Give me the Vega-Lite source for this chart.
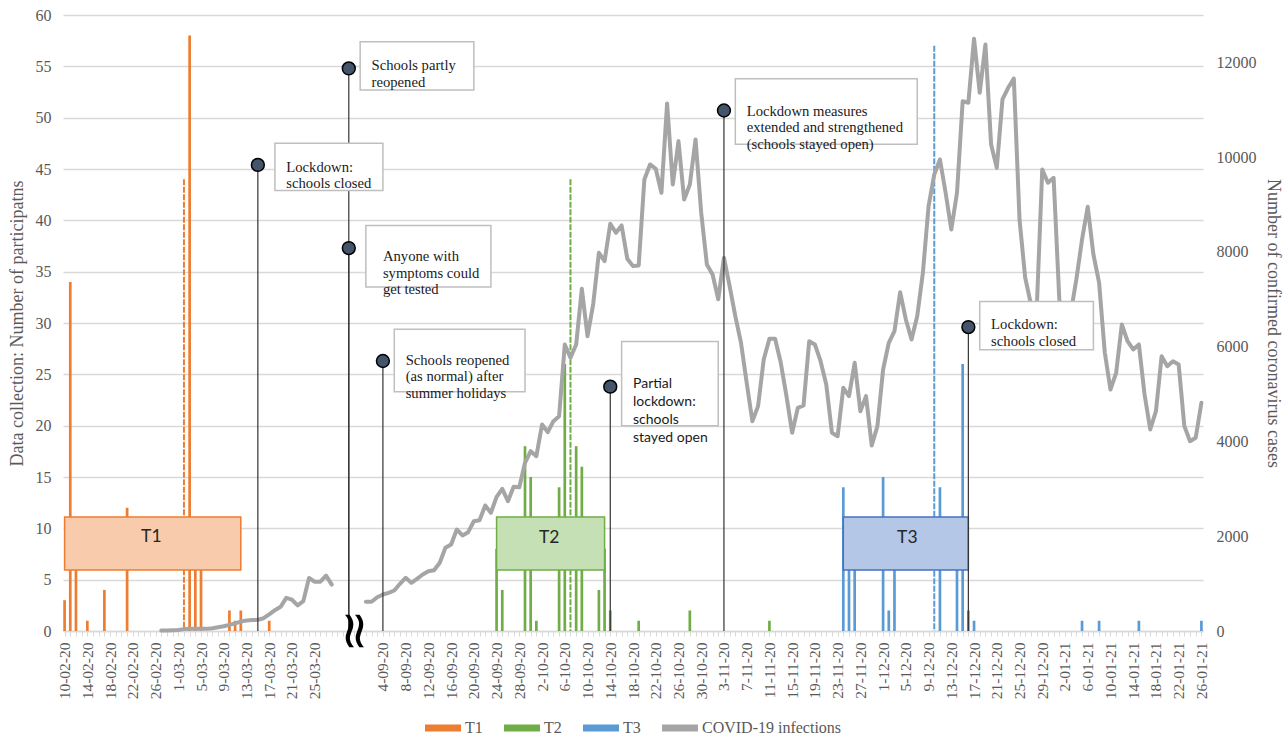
{
  "$schema": "https://vega.github.io/schema/vega-lite/v6.json",
  "width": 1140,
  "height": 616,
  "autosize": {"type": "none"},
  "padding": {"left": 63, "top": 15, "right": 84, "bottom": 105},
  "background": "white",
  "config": {"view": {"stroke": null}},
  "datasets": {
    "bars": [
      {"wave": "T1", "date": "10-02-20", "n": 3}, {"wave": "T1", "date": "11-02-20", "n": 34}, {"wave": "T1", "date": "12-02-20", "n": 9},
      {"wave": "T1", "date": "14-02-20", "n": 1}, {"wave": "T1", "date": "17-02-20", "n": 4}, {"wave": "T1", "date": "21-02-20", "n": 12},
      {"wave": "T1", "date": "3-03-20", "n": 58}, {"wave": "T1", "date": "4-03-20", "n": 8}, {"wave": "T1", "date": "5-03-20", "n": 8},
      {"wave": "T1", "date": "10-03-20", "n": 2}, {"wave": "T1", "date": "11-03-20", "n": 1}, {"wave": "T1", "date": "12-03-20", "n": 2},
      {"wave": "T1", "date": "17-03-20", "n": 1},
      {"wave": "T2", "date": "24-09-20", "n": 8}, {"wave": "T2", "date": "25-09-20", "n": 4}, {"wave": "T2", "date": "29-09-20", "n": 18},
      {"wave": "T2", "date": "30-09-20", "n": 15}, {"wave": "T2", "date": "1-10-20", "n": 1}, {"wave": "T2", "date": "5-10-20", "n": 14},
      {"wave": "T2", "date": "6-10-20", "n": 26}, {"wave": "T2", "date": "8-10-20", "n": 18}, {"wave": "T2", "date": "9-10-20", "n": 16},
      {"wave": "T2", "date": "12-10-20", "n": 4}, {"wave": "T2", "date": "13-10-20", "n": 8}, {"wave": "T2", "date": "14-10-20", "n": 2},
      {"wave": "T2", "date": "19-10-20", "n": 1}, {"wave": "T2", "date": "28-10-20", "n": 2}, {"wave": "T2", "date": "11-11-20", "n": 1},
      {"wave": "T3", "date": "24-11-20", "n": 14}, {"wave": "T3", "date": "25-11-20", "n": 8}, {"wave": "T3", "date": "26-11-20", "n": 8},
      {"wave": "T3", "date": "1-12-20", "n": 15}, {"wave": "T3", "date": "2-12-20", "n": 2}, {"wave": "T3", "date": "3-12-20", "n": 8},
      {"wave": "T3", "date": "11-12-20", "n": 14}, {"wave": "T3", "date": "14-12-20", "n": 8}, {"wave": "T3", "date": "15-12-20", "n": 26},
      {"wave": "T3", "date": "16-12-20", "n": 2}, {"wave": "T3", "date": "17-12-20", "n": 1}, {"wave": "T3", "date": "5-01-21", "n": 1},
      {"wave": "T3", "date": "8-01-21", "n": 1}, {"wave": "T3", "date": "15-01-21", "n": 1}, {"wave": "T3", "date": "26-01-21", "n": 1}
    ],
    "peaks": [
      {"wave": "T1", "date": "2-03-20", "n": 44},
      {"wave": "T2", "date": "7-10-20", "n": 44},
      {"wave": "T3", "date": "10-12-20", "n": 57}
    ],
    "periods": [
      {"wave": "T1", "date": "10-02-20", "end": "12-03-20", "top": 11.1, "bottom": 5.95},
      {"wave": "T2", "date": "24-09-20", "end": "13-10-20", "top": 11.1, "bottom": 5.95},
      {"wave": "T3", "date": "24-11-20", "end": "16-12-20", "top": 11.1, "bottom": 5.95}
    ],
    "periodLabels": [
      {"wave": "T1", "date": "25-02-20", "y": 9.2},
      {"wave": "T2", "date": "3-10-20", "y": 9.1},
      {"wave": "T3", "date": "5-12-20", "y": 9.1}
    ],
    "covid": [
      {"period": "spring", "date": "27-02-20", "cases": 10}, {"period": "spring", "date": "28-02-20", "cases": 12},
      {"period": "spring", "date": "29-02-20", "cases": 15}, {"period": "spring", "date": "1-03-20", "cases": 20},
      {"period": "spring", "date": "2-03-20", "cases": 40}, {"period": "spring", "date": "3-03-20", "cases": 45},
      {"period": "spring", "date": "4-03-20", "cases": 45}, {"period": "spring", "date": "5-03-20", "cases": 45},
      {"period": "spring", "date": "6-03-20", "cases": 45}, {"period": "spring", "date": "7-03-20", "cases": 60},
      {"period": "spring", "date": "8-03-20", "cases": 80}, {"period": "spring", "date": "9-03-20", "cases": 100},
      {"period": "spring", "date": "10-03-20", "cases": 130}, {"period": "spring", "date": "11-03-20", "cases": 160},
      {"period": "spring", "date": "12-03-20", "cases": 200}, {"period": "spring", "date": "13-03-20", "cases": 220},
      {"period": "spring", "date": "14-03-20", "cases": 230}, {"period": "spring", "date": "15-03-20", "cases": 235},
      {"period": "spring", "date": "16-03-20", "cases": 270}, {"period": "spring", "date": "17-03-20", "cases": 350},
      {"period": "spring", "date": "18-03-20", "cases": 440}, {"period": "spring", "date": "19-03-20", "cases": 510},
      {"period": "spring", "date": "20-03-20", "cases": 700}, {"period": "spring", "date": "21-03-20", "cases": 660},
      {"period": "spring", "date": "22-03-20", "cases": 540}, {"period": "spring", "date": "23-03-20", "cases": 630},
      {"period": "spring", "date": "24-03-20", "cases": 1120}, {"period": "spring", "date": "25-03-20", "cases": 1040},
      {"period": "spring", "date": "26-03-20", "cases": 1040}, {"period": "spring", "date": "27-03-20", "cases": 1170},
      {"period": "spring", "date": "28-03-20", "cases": 980},
      {"period": "autumn", "date": "1-09-20", "cases": 616}, {"period": "autumn", "date": "2-09-20", "cases": 616},
      {"period": "autumn", "date": "3-09-20", "cases": 713}, {"period": "autumn", "date": "4-09-20", "cases": 770},
      {"period": "autumn", "date": "5-09-20", "cases": 806}, {"period": "autumn", "date": "6-09-20", "cases": 855},
      {"period": "autumn", "date": "7-09-20", "cases": 996}, {"period": "autumn", "date": "8-09-20", "cases": 1123},
      {"period": "autumn", "date": "9-09-20", "cases": 1017}, {"period": "autumn", "date": "10-09-20", "cases": 1102},
      {"period": "autumn", "date": "11-09-20", "cases": 1192}, {"period": "autumn", "date": "12-09-20", "cases": 1262},
      {"period": "autumn", "date": "13-09-20", "cases": 1283}, {"period": "autumn", "date": "14-09-20", "cases": 1439},
      {"period": "autumn", "date": "15-09-20", "cases": 1756}, {"period": "autumn", "date": "16-09-20", "cases": 1826},
      {"period": "autumn", "date": "17-09-20", "cases": 2142}, {"period": "autumn", "date": "18-09-20", "cases": 2016},
      {"period": "autumn", "date": "19-09-20", "cases": 2085}, {"period": "autumn", "date": "20-09-20", "cases": 2317},
      {"period": "autumn", "date": "21-09-20", "cases": 2339}, {"period": "autumn", "date": "22-09-20", "cases": 2649},
      {"period": "autumn", "date": "23-09-20", "cases": 2495}, {"period": "autumn", "date": "24-09-20", "cases": 2832},
      {"period": "autumn", "date": "25-09-20", "cases": 3001}, {"period": "autumn", "date": "26-09-20", "cases": 2740},
      {"period": "autumn", "date": "27-09-20", "cases": 3043}, {"period": "autumn", "date": "28-09-20", "cases": 3035},
      {"period": "autumn", "date": "29-09-20", "cases": 3550}, {"period": "autumn", "date": "30-09-20", "cases": 3795},
      {"period": "autumn", "date": "1-10-20", "cases": 3689}, {"period": "autumn", "date": "2-10-20", "cases": 4358},
      {"period": "autumn", "date": "3-10-20", "cases": 4196}, {"period": "autumn", "date": "4-10-20", "cases": 4428},
      {"period": "autumn", "date": "5-10-20", "cases": 4534}, {"period": "autumn", "date": "6-10-20", "cases": 6047},
      {"period": "autumn", "date": "7-10-20", "cases": 5766}, {"period": "autumn", "date": "8-10-20", "cases": 6047},
      {"period": "autumn", "date": "9-10-20", "cases": 7222}, {"period": "autumn", "date": "10-10-20", "cases": 6222},
      {"period": "autumn", "date": "11-10-20", "cases": 6900}, {"period": "autumn", "date": "12-10-20", "cases": 7982},
      {"period": "autumn", "date": "13-10-20", "cases": 7805}, {"period": "autumn", "date": "14-10-20", "cases": 8594},
      {"period": "autumn", "date": "15-10-20", "cases": 8404}, {"period": "autumn", "date": "16-10-20", "cases": 8558},
      {"period": "autumn", "date": "17-10-20", "cases": 7855}, {"period": "autumn", "date": "18-10-20", "cases": 7700},
      {"period": "autumn", "date": "19-10-20", "cases": 7714}, {"period": "autumn", "date": "20-10-20", "cases": 9529},
      {"period": "autumn", "date": "21-10-20", "cases": 9846}, {"period": "autumn", "date": "22-10-20", "cases": 9755},
      {"period": "autumn", "date": "23-10-20", "cases": 9248}, {"period": "autumn", "date": "24-10-20", "cases": 11133},
      {"period": "autumn", "date": "25-10-20", "cases": 9424}, {"period": "autumn", "date": "26-10-20", "cases": 10338},
      {"period": "autumn", "date": "27-10-20", "cases": 9107}, {"period": "autumn", "date": "28-10-20", "cases": 9424},
      {"period": "autumn", "date": "29-10-20", "cases": 10373}, {"period": "autumn", "date": "30-10-20", "cases": 8827},
      {"period": "autumn", "date": "31-10-20", "cases": 7735}, {"period": "autumn", "date": "1-11-20", "cases": 7524},
      {"period": "autumn", "date": "2-11-20", "cases": 7000}, {"period": "autumn", "date": "3-11-20", "cases": 7877},
      {"period": "autumn", "date": "4-11-20", "cases": 7277}, {"period": "autumn", "date": "5-11-20", "cases": 6644},
      {"period": "autumn", "date": "6-11-20", "cases": 6083}, {"period": "autumn", "date": "7-11-20", "cases": 5239},
      {"period": "autumn", "date": "8-11-20", "cases": 4428}, {"period": "autumn", "date": "9-11-20", "cases": 4745},
      {"period": "autumn", "date": "10-11-20", "cases": 5730}, {"period": "autumn", "date": "11-11-20", "cases": 6167},
      {"period": "autumn", "date": "12-11-20", "cases": 6167}, {"period": "autumn", "date": "13-11-20", "cases": 5661},
      {"period": "autumn", "date": "14-11-20", "cases": 4956}, {"period": "autumn", "date": "15-11-20", "cases": 4183},
      {"period": "autumn", "date": "16-11-20", "cases": 4711}, {"period": "autumn", "date": "17-11-20", "cases": 4759},
      {"period": "autumn", "date": "18-11-20", "cases": 6117}, {"period": "autumn", "date": "19-11-20", "cases": 6047},
      {"period": "autumn", "date": "20-11-20", "cases": 5694}, {"period": "autumn", "date": "21-11-20", "cases": 5203},
      {"period": "autumn", "date": "22-11-20", "cases": 4183}, {"period": "autumn", "date": "23-11-20", "cases": 4112},
      {"period": "autumn", "date": "24-11-20", "cases": 5133}, {"period": "autumn", "date": "25-11-20", "cases": 4956},
      {"period": "autumn", "date": "26-11-20", "cases": 5661}, {"period": "autumn", "date": "27-11-20", "cases": 4639},
      {"period": "autumn", "date": "28-11-20", "cases": 4956}, {"period": "autumn", "date": "29-11-20", "cases": 3915},
      {"period": "autumn", "date": "30-11-20", "cases": 4323}, {"period": "autumn", "date": "1-12-20", "cases": 5519},
      {"period": "autumn", "date": "2-12-20", "cases": 6083}, {"period": "autumn", "date": "3-12-20", "cases": 6328},
      {"period": "autumn", "date": "4-12-20", "cases": 7150}, {"period": "autumn", "date": "5-12-20", "cases": 6575},
      {"period": "autumn", "date": "6-12-20", "cases": 6152}, {"period": "autumn", "date": "7-12-20", "cases": 6644},
      {"period": "autumn", "date": "8-12-20", "cases": 7560}, {"period": "autumn", "date": "9-12-20", "cases": 8966},
      {"period": "autumn", "date": "10-12-20", "cases": 9635}, {"period": "autumn", "date": "11-12-20", "cases": 9951},
      {"period": "autumn", "date": "12-12-20", "cases": 9248}, {"period": "autumn", "date": "13-12-20", "cases": 8474},
      {"period": "autumn", "date": "14-12-20", "cases": 9248}, {"period": "autumn", "date": "15-12-20", "cases": 11182},
      {"period": "autumn", "date": "16-12-20", "cases": 11148}, {"period": "autumn", "date": "17-12-20", "cases": 12499},
      {"period": "autumn", "date": "18-12-20", "cases": 11359}, {"period": "autumn", "date": "19-12-20", "cases": 12379},
      {"period": "autumn", "date": "20-12-20", "cases": 10268}, {"period": "autumn", "date": "21-12-20", "cases": 9776},
      {"period": "autumn", "date": "22-12-20", "cases": 11217}, {"period": "autumn", "date": "23-12-20", "cases": 11464},
      {"period": "autumn", "date": "24-12-20", "cases": 11660}, {"period": "autumn", "date": "25-12-20", "cases": 8685},
      {"period": "autumn", "date": "26-12-20", "cases": 7454}, {"period": "autumn", "date": "27-12-20", "cases": 6900},
      {"period": "autumn", "date": "28-12-20", "cases": 6700}, {"period": "autumn", "date": "29-12-20", "cases": 9740},
      {"period": "autumn", "date": "30-12-20", "cases": 9459}, {"period": "autumn", "date": "31-12-20", "cases": 9565},
      {"period": "autumn", "date": "1-01-21", "cases": 7000}, {"period": "autumn", "date": "2-01-21", "cases": 6300},
      {"period": "autumn", "date": "3-01-21", "cases": 6700}, {"period": "autumn", "date": "4-01-21", "cases": 7420},
      {"period": "autumn", "date": "5-01-21", "cases": 8263}, {"period": "autumn", "date": "6-01-21", "cases": 8952},
      {"period": "autumn", "date": "7-01-21", "cases": 7946}, {"period": "autumn", "date": "8-01-21", "cases": 7350},
      {"period": "autumn", "date": "9-01-21", "cases": 5878}, {"period": "autumn", "date": "10-01-21", "cases": 5097},
      {"period": "autumn", "date": "11-01-21", "cases": 5449}, {"period": "autumn", "date": "12-01-21", "cases": 6469},
      {"period": "autumn", "date": "13-01-21", "cases": 6117}, {"period": "autumn", "date": "14-01-21", "cases": 5941},
      {"period": "autumn", "date": "15-01-21", "cases": 6047}, {"period": "autumn", "date": "16-01-21", "cases": 4991},
      {"period": "autumn", "date": "17-01-21", "cases": 4253}, {"period": "autumn", "date": "18-01-21", "cases": 4639},
      {"period": "autumn", "date": "19-01-21", "cases": 5800}, {"period": "autumn", "date": "20-01-21", "cases": 5589},
      {"period": "autumn", "date": "21-01-21", "cases": 5694}, {"period": "autumn", "date": "22-01-21", "cases": 5624},
      {"period": "autumn", "date": "23-01-21", "cases": 4323}, {"period": "autumn", "date": "24-01-21", "cases": 4006},
      {"period": "autumn", "date": "25-01-21", "cases": 4078}, {"period": "autumn", "date": "26-01-21", "cases": 4816}
    ],
    "events": [
      {"date": "15-03-20", "level": 45.4},
      {"date": "31-03-20", "level": 54.8},
      {"date": "31-03-20", "level": 37.3},
      {"date": "4-09-20", "level": 26.3},
      {"date": "14-10-20", "level": 23.8},
      {"date": "3-11-20", "level": 50.7},
      {"date": "16-12-20", "level": 29.6}
    ],
    "noteBoxes": [
      {"date": "18-03-20", "end": "4-09-20", "top": 47.5, "bottom": 42.9},
      {"date": "31-08-20", "end": "20-09-20", "top": 57.4, "bottom": 52.7},
      {"date": "1-09-20", "end": "23-09-20", "top": 39.5, "bottom": 33.5},
      {"date": "6-09-20", "end": "29-09-20", "top": 29.4, "bottom": 23.3},
      {"date": "16-10-20", "end": "2-11-20", "top": 28.2, "bottom": 20.0},
      {"date": "5-11-20", "end": "7-12-20", "top": 53.8, "bottom": 47.4},
      {"date": "18-12-20", "end": "7-01-21", "top": 32.1, "bottom": 27.4}
    ],
    "noteTexts": [
      {"date": "20-03-20", "y": 45.1, "note": "Lockdown:\nschools closed"},
      {"date": "2-09-20", "y": 55.0, "note": "Schools partly\nreopened"},
      {"date": "4-09-20", "y": 36.4, "note": "Anyone with\nsymptoms could\nget tested"},
      {"date": "8-09-20", "y": 26.3, "note": "Schools reopened\n(as normal) after\nsummer holidays"},
      {"date": "18-10-20", "y": 24.06, "note": "Partial\nlockdown:\nschools\nstayed open"},
      {"date": "7-11-20", "y": 50.6, "note": "Lockdown measures\nextended and strengthened\n(schools stayed open)"},
      {"date": "20-12-20", "y": 29.8, "note": "Lockdown:\nschools closed"}
    ],
    "axisBreak": [{"date": "30-08-20", "n": 0}]
  },
  "encoding": {
    "x": {
      "field": "date",
      "type": "ordinal",
      "scale": {
        "type": "point",
        "padding": 0.28,
        "domain": [
          "10-02-20","11-02-20","12-02-20","13-02-20","14-02-20","15-02-20","16-02-20","17-02-20","18-02-20","19-02-20","20-02-20","21-02-20","22-02-20","23-02-20","24-02-20","25-02-20","26-02-20","27-02-20","28-02-20","29-02-20",
          "1-03-20","2-03-20","3-03-20","4-03-20","5-03-20","6-03-20","7-03-20","8-03-20","9-03-20","10-03-20","11-03-20","12-03-20","13-03-20","14-03-20","15-03-20","16-03-20","17-03-20","18-03-20","19-03-20","20-03-20","21-03-20","22-03-20","23-03-20","24-03-20","25-03-20","26-03-20","27-03-20","28-03-20","29-03-20","30-03-20","31-03-20",
          "30-08-20","31-08-20",
          "1-09-20","2-09-20","3-09-20","4-09-20","5-09-20","6-09-20","7-09-20","8-09-20","9-09-20","10-09-20","11-09-20","12-09-20","13-09-20","14-09-20","15-09-20","16-09-20","17-09-20","18-09-20","19-09-20","20-09-20","21-09-20","22-09-20","23-09-20","24-09-20","25-09-20","26-09-20","27-09-20","28-09-20","29-09-20","30-09-20",
          "1-10-20","2-10-20","3-10-20","4-10-20","5-10-20","6-10-20","7-10-20","8-10-20","9-10-20","10-10-20","11-10-20","12-10-20","13-10-20","14-10-20","15-10-20","16-10-20","17-10-20","18-10-20","19-10-20","20-10-20","21-10-20","22-10-20","23-10-20","24-10-20","25-10-20","26-10-20","27-10-20","28-10-20","29-10-20","30-10-20","31-10-20",
          "1-11-20","2-11-20","3-11-20","4-11-20","5-11-20","6-11-20","7-11-20","8-11-20","9-11-20","10-11-20","11-11-20","12-11-20","13-11-20","14-11-20","15-11-20","16-11-20","17-11-20","18-11-20","19-11-20","20-11-20","21-11-20","22-11-20","23-11-20","24-11-20","25-11-20","26-11-20","27-11-20","28-11-20","29-11-20","30-11-20",
          "1-12-20","2-12-20","3-12-20","4-12-20","5-12-20","6-12-20","7-12-20","8-12-20","9-12-20","10-12-20","11-12-20","12-12-20","13-12-20","14-12-20","15-12-20","16-12-20","17-12-20","18-12-20","19-12-20","20-12-20","21-12-20","22-12-20","23-12-20","24-12-20","25-12-20","26-12-20","27-12-20","28-12-20","29-12-20","30-12-20","31-12-20",
          "1-01-21","2-01-21","3-01-21","4-01-21","5-01-21","6-01-21","7-01-21","8-01-21","9-01-21","10-01-21","11-01-21","12-01-21","13-01-21","14-01-21","15-01-21","16-01-21","17-01-21","18-01-21","19-01-21","20-01-21","21-01-21","22-01-21","23-01-21","24-01-21","25-01-21","26-01-21"
        ]
      },
      "axis": {
        "title": null,
        "labelAngle": 270,
        "labelFont": "Liberation Serif",
        "labelFontSize": 15.5,
        "labelColor": "#595959",
        "labelPadding": 6,
        "labelOverlap": false,
        "labelBound": false,
        "labelFlush": false,
        "ticks": true,
        "tickColor": "#d9d9d9",
        "tickSize": 5,
        "tickWidth": 1,
        "domainColor": "#d9d9d9",
        "domainWidth": 1.5,
        "grid": false,
        "labelExpr": "indexof(['10-02-20','14-02-20','18-02-20','22-02-20','26-02-20','1-03-20','5-03-20','9-03-20','13-03-20','17-03-20','21-03-20','25-03-20','4-09-20','8-09-20','12-09-20','16-09-20','20-09-20','24-09-20','28-09-20','2-10-20','6-10-20','10-10-20','14-10-20','18-10-20','22-10-20','26-10-20','30-10-20','3-11-20','7-11-20','11-11-20','15-11-20','19-11-20','23-11-20','27-11-20','1-12-20','5-12-20','9-12-20','13-12-20','17-12-20','21-12-20','25-12-20','29-12-20','2-01-21','6-01-21','10-01-21','14-01-21','18-01-21','22-01-21','26-01-21'], datum.value) >= 0 ? datum.value : ''"
      }
    }
  },
  "layer": [
    {
      "data": {"name": "bars"},
      "mark": {"type": "bar", "size": 2.7},
      "encoding": {
        "y": {
          "field": "n", "type": "quantitative",
          "scale": {"domain": [0, 60], "nice": false},
          "axis": {
            "orient": "left",
            "title": "Data collection: Number of participatns",
            "values": [0, 5, 10, 15, 20, 25, 30, 35, 40, 45, 50, 55, 60],
            "grid": true, "gridColor": "#d9d9d9", "gridWidth": 1.5,
            "domain": false, "ticks": false,
            "labelFont": "Liberation Serif", "labelFontSize": 16, "labelColor": "#595959", "labelPadding": 12,
            "titleFont": "Liberation Serif", "titleFontSize": 18, "titleFontWeight": "normal", "titleColor": "#595959", "titlePadding": 9
          }
        },
        "color": {
          "field": "wave", "type": "nominal",
          "scale": {"domain": ["T1", "T2", "T3", "COVID-19 infections"], "range": ["#ED7D31", "#70AD47", "#5B9BD5", "#A5A5A5"]},
          "legend": {
            "orient": "none", "direction": "horizontal", "legendX": 362, "legendY": 695, "title": null,
            "symbolType": "M-1,-0.2H1V0.2H-1Z", "symbolSize": 1296, "symbolStrokeWidth": 0,
            "labelFont": "Liberation Serif", "labelFontSize": 16, "labelColor": "#595959",
            "columnPadding": 21, "labelOffset": 4
          }
        }
      }
    },
    {
      "data": {"name": "peaks"},
      "mark": {"type": "rule", "strokeDash": [6, 1.5], "strokeWidth": 2},
      "encoding": {
        "y": {"field": "n", "type": "quantitative", "scale": {"domain": [0, 60], "nice": false}, "axis": null},
        "y2": {"datum": 0},
        "color": {"field": "wave", "type": "nominal"}
      }
    },
    {
      "data": {"name": "periods"},
      "mark": {"type": "rect", "strokeWidth": 1.5},
      "encoding": {
        "x2": {"field": "end"},
        "y": {"field": "top", "type": "quantitative", "scale": {"domain": [0, 60], "nice": false}, "axis": null},
        "y2": {"field": "bottom"},
        "fill": {"field": "wave", "type": "nominal", "scale": {"domain": ["T1", "T2", "T3"], "range": ["#F8CBAD", "#C5E0B4", "#B4C7E7"]}, "legend": null},
        "stroke": {"field": "wave", "type": "nominal", "scale": {"domain": ["T1", "T2", "T3"], "range": ["#ED7D31", "#70AD47", "#4472C4"]}, "legend": null}
      }
    },
    {
      "data": {"name": "periodLabels"},
      "mark": {"type": "text", "font": "Lato", "fontSize": 17.5, "color": "#262626", "dx": 1.5},
      "encoding": {
        "y": {"field": "y", "type": "quantitative", "scale": {"domain": [0, 60], "nice": false}, "axis": null},
        "text": {"field": "wave"}
      }
    },
    {
      "data": {"name": "covid"},
      "mark": {"type": "line", "strokeWidth": 4, "strokeJoin": "round", "strokeCap": "round"},
      "encoding": {
        "y": {
          "field": "cases", "type": "quantitative",
          "scale": {"domain": [0, 13000], "nice": false},
          "axis": {
            "orient": "right",
            "title": "Number of confirmed coronavirus cases",
            "values": [0, 2000, 4000, 6000, 8000, 10000, 12000],
            "format": "d",
            "grid": false, "domain": false, "ticks": false,
            "labelFont": "Liberation Serif", "labelFontSize": 16, "labelColor": "#595959", "labelPadding": 13,
            "titleFont": "Liberation Serif", "titleFontSize": 18, "titleFontWeight": "normal", "titleColor": "#595959", "titlePadding": 7
          }
        },
        "color": {"datum": "COVID-19 infections"},
        "detail": {"field": "period"},
        "order": {"value": null}
      }
    },
    {
      "data": {"name": "events"},
      "mark": {"type": "rule", "color": "#333333", "strokeWidth": 1.2},
      "encoding": {
        "y": {"field": "level", "type": "quantitative", "scale": {"domain": [0, 60], "nice": false}, "axis": null},
        "y2": {"datum": 0}
      }
    },
    {
      "data": {"name": "events"},
      "mark": {"type": "circle", "size": 165, "fill": "#44546A", "stroke": "#000000", "strokeWidth": 1.5, "opacity": 1},
      "encoding": {
        "y": {"field": "level", "type": "quantitative", "scale": {"domain": [0, 60], "nice": false}, "axis": null}
      }
    },
    {
      "data": {"name": "noteBoxes"},
      "mark": {"type": "rect", "fill": "white", "stroke": "#bfbfbf", "strokeWidth": 1.5},
      "encoding": {
        "x2": {"field": "end"},
        "y": {"field": "top", "type": "quantitative", "scale": {"domain": [0, 60], "nice": false}, "axis": null},
        "y2": {"field": "bottom"}
      }
    },
    {
      "data": {"name": "noteTexts"},
      "transform": [{"filter": "indexof(datum.note, 'Partial') != 0"}],
      "mark": {"type": "text", "align": "left", "baseline": "middle", "font": "Liberation Serif", "fontSize": 14.67, "lineHeight": 16.5, "lineBreak": "\n", "color": "#1a1a1a"},
      "encoding": {
        "y": {"field": "y", "type": "quantitative", "scale": {"domain": [0, 60], "nice": false}, "axis": null},
        "text": {"field": "note"}
      }
    },
    {
      "data": {"name": "noteTexts"},
      "transform": [{"filter": "indexof(datum.note, 'Partial') == 0"}],
      "mark": {"type": "text", "align": "left", "baseline": "middle", "font": "Lato", "fontSize": 14, "lineHeight": 18, "lineBreak": "\n", "color": "#1a1a1a"},
      "encoding": {
        "y": {"field": "y", "type": "quantitative", "scale": {"domain": [0, 60], "nice": false}, "axis": null},
        "text": {"field": "note"}
      }
    },
    {
      "data": {"name": "axisBreak"},
      "mark": {"type": "text", "text": "≈", "angle": 90, "font": "DejaVu Sans", "fontSize": 52, "color": "#000000", "align": "center", "baseline": "middle"},
      "encoding": {
        "y": {"field": "n", "type": "quantitative", "scale": {"domain": [0, 60], "nice": false}, "axis": null}
      }
    }
  ],
  "resolve": {"scale": {"y": "independent"}}
}
